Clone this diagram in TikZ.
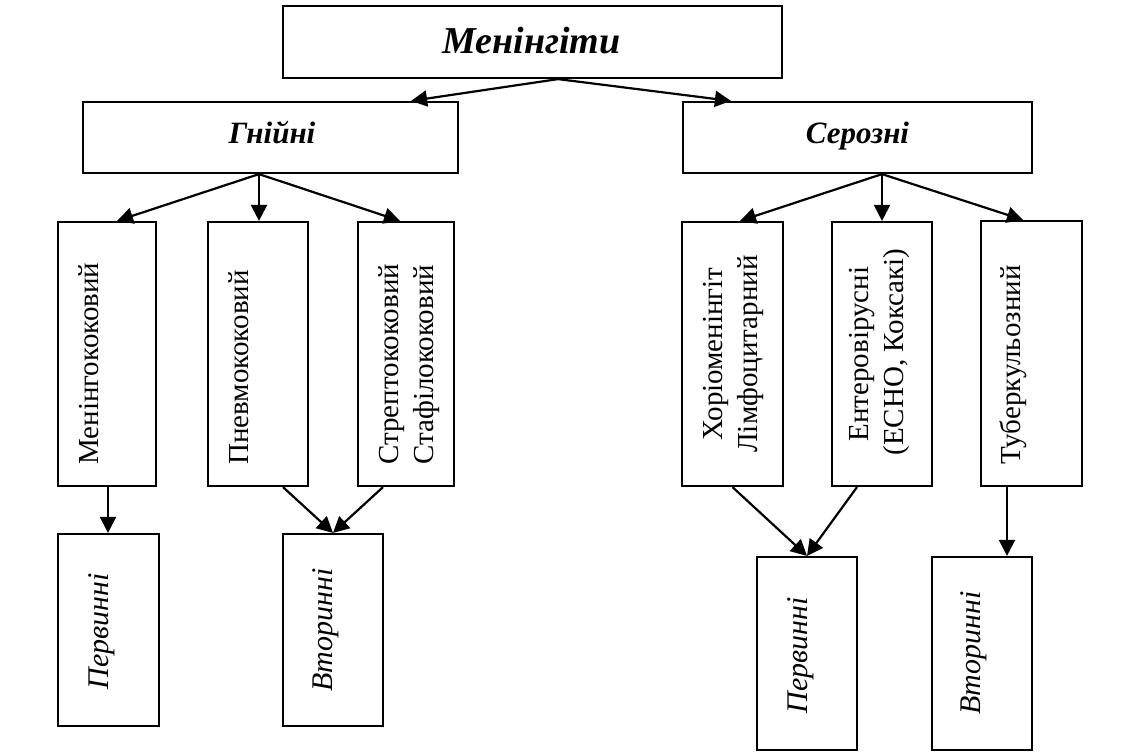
\documentclass[tikz,border=0pt]{standalone}
\usepackage{fontspec}
\setmainfont{Liberation Serif}
\usetikzlibrary{arrows.meta, calc, positioning}

\begin{document}
\begin{tikzpicture}[x=0.5pt, y=-0.5pt,
  box/.style 2 args={draw, line width=1.1pt, inner sep=0pt, minimum width=#1, minimum height=#2},
  arr/.style={-{Triangle[length=8pt, width=8pt]}, line width=1.1pt},
  vtxt/.style={rotate=90, inner sep=0pt, font=\fontsize{14.5}{17}\selectfont},
  itxt/.style={rotate=90, inner sep=0pt, anchor=base, font=\fontsize{15}{18}\selectfont\itshape},
  btxt/.style={inner sep=0pt, anchor=base, font=\fontsize{15.5}{18}\selectfont\bfseries\itshape}]
  \useasboundingbox (0,0) rectangle (1136,751);

  % top levels
  \node[box={249.5pt}{36pt}] (men) at (532.5,42) {};
  \node[btxt, font=\fontsize{19}{22}\selectfont\bfseries\itshape] (tmen) at (531.5,53) {Менінгіти};
  \node[box={187.5pt}{35.5pt}] (gn) at (270.5,137.5) {};
  \node[btxt] (tgn) at (272,143) {Гнійні};
  \node[box={174.5pt}{35.5pt}] (ser) at (857.5,137.5) {};
  \node[btxt] (tser) at (857.5,143) {Серозні};

  % pathogens
  \node[box={49pt}{132pt}] (mk) at (107,354) {};
  \node[box={50pt}{132pt}] (pk) at (258,354) {};
  \node[box={48pt}{132pt}] (sk) at (406,354) {};
  \node[box={50.5pt}{132pt}] (xl) at (732.5,354) {};
  \node[box={50pt}{132pt}] (ent) at (882,354) {};
  \node[box={50.5pt}{132.5pt}] (tub) at (1031.5,353.5) {};
  \node[vtxt, anchor=base west] (tmk) at (98,465) {Менінгококовий};
  \node[vtxt, anchor=base west] (tpk) at (248,465) {Пневмококовий};
  \node[vtxt, anchor=base west] (tsk1) at (398,465) {Стрептококовий};
  \node[vtxt, anchor=base west] (tsk2) at (433,465) {Стафілококовий};
  \node[vtxt, anchor=base] (txl1) at (722,354) {Хоріоменінгіт};
  \node[vtxt, anchor=base] (txl2) at (757,354) {Лімфоцитарний};
  \node[vtxt, anchor=base] (tent1) at (868,354) {Ентеровірусні};
  \node[vtxt, anchor=base] (tent2) at (903,352) {(ECHO, Коксакі)};
  \node[vtxt, anchor=base west] (ttub) at (1020,465) {Туберкульозний};

  % primary / secondary
  \node[box={50.5pt}{96pt}] (pl) at (108.5,630) {};
  \node[box={50pt}{96pt}] (vl) at (333,630) {};
  \node[box={50pt}{96.5pt}] (pr) at (807,653.5) {};
  \node[box={50pt}{96.5pt}] (vr) at (982,653.5) {};
  \node[itxt] (tpl) at (108,631) {Первинні};
  \node[itxt] (tvl) at (332,630) {Вторинні};
  \node[itxt] (tpr) at (807,655) {Первинні};
  \node[itxt] (tvr) at (980,653) {Вторинні};

  % connectors
  \coordinate (hm) at ($(men.south)+(25.5,0)$);
  \coordinate (hg) at ($(gn.south)+(-11.5,0)$);
  \coordinate (hs) at ($(ser.south)+(24.5,0)$);
  \draw[arr] (hm) -- ($(gn.north east)+(-48,0)$);
  \draw[arr] (hm) -- ($(ser.north west)+(49,0)$);
  \draw[arr] (hg) -- ($(mk.north)+(10,0)$);
  \draw[arr] (hg) -- (hg |- pk.north);
  \draw[arr] (hg) -- ($(sk.north)+(-6,0)$);
  \draw[arr] (hs) -- ($(xl.north)+(7.5,0)$);
  \draw[arr] (hs) -- (hs |- ent.north);
  \draw[arr] (hs) -- ($(tub.north)+(-8.5,0)$);
  \draw[arr] ($(mk.south)+(1,0)$) -- ($(pl.north)+(-0.5,0)$);
  \draw[arr] ($(pk.south)+(25,0)$) -- (vl.north);
  \draw[arr] ($(sk.south)+(-23,0)$) -- (vl.north);
  \draw[arr] (xl.south) -- (pr.north);
  \draw[arr] ($(ent.south)+(-25,0)$) -- (pr.north);
  \draw[arr] ($(tub.south)+(-24.5,0)$) -- ($(vr.north)+(25,0)$);
\end{tikzpicture}
\end{document}
